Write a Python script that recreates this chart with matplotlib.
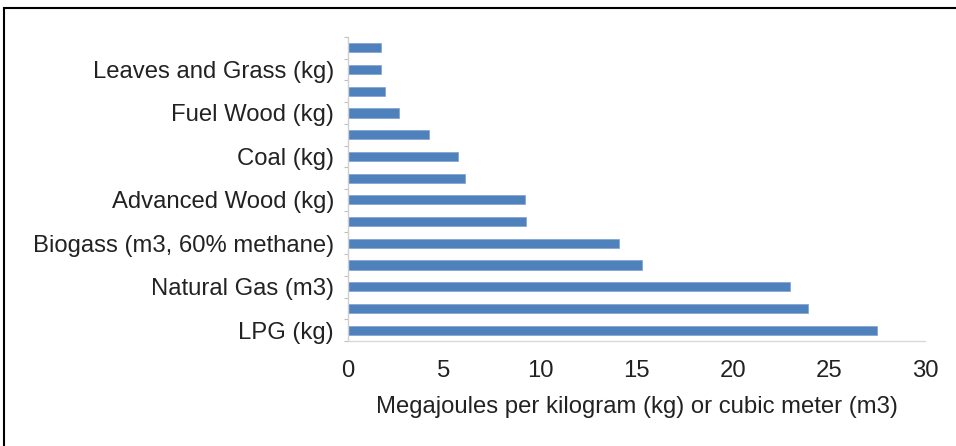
import matplotlib
matplotlib.use("Agg")
import matplotlib.pyplot as plt
from matplotlib.patches import Rectangle
import numpy as np

plt.rcParams['font.family'] = ['Liberation Sans', 'DejaVu Sans']

# Categories from top to bottom (unlabeled ones are hidden by the source chart)
categories = ["", "Leaves and Grass (kg)", "", "Fuel Wood (kg)", "", "Coal (kg)", "",
              "Advanced Wood (kg)", "", "Biogass (m3, 60% methane)", "", "Natural Gas (m3)",
              "", "LPG (kg)"]
values = [1.70, 1.70, 1.92, 2.64, 4.23, 5.74, 6.10, 9.18, 9.26, 14.1, 15.3, 23.0, 23.9, 27.5]
xticks = [0, 5, 10, 15, 20, 25, 30]
xlabel = "Megajoules per kilogram (kg) or cubic meter (m3)"

W, H = 956, 446
fig = plt.figure(figsize=(W / 100, H / 100), dpi=100)
fig.patch.set_facecolor('white')

# outer frame (cut at right and bottom in the reference)
fig.patches.append(Rectangle((4 / W, -0.05), 1.2, (H - 8) / H + 0.05, transform=fig.transFigure,
                             fill=False, edgecolor='black', linewidth=1.5))

left, right = 348 / W, 925 / W
top, bottom = 1 - 37 / H, 1 - 341 / H
ax = fig.add_axes([left, bottom, right - left, top - bottom])

FS = 17.2
y = np.arange(len(values))
ax.barh(y, values, height=0.42, color='#4F81BD', edgecolor='#7FA1CF', linewidth=0.5)
ax.set_ylim(len(values) - 0.5, -0.5)
ax.set_xlim(0, 30)
ax.set_xticks(xticks)
ax.set_xticklabels([str(t) for t in xticks], fontsize=FS, color='#222222')
ax.set_yticks(y)
ax.set_yticklabels(categories, fontsize=FS, color='#222222')
ax.tick_params(axis='y', length=0, pad=10)
ax.tick_params(axis='x', length=0, pad=14)
ax.set_yticks(np.arange(-0.5, len(values), 1), minor=True)
ax.tick_params(axis='y', which='minor', length=3, color='#BFBFBF', width=0.8)

for s in ['top', 'right']:
    ax.spines[s].set_visible(False)
ax.spines['left'].set_color('#D0D0D0')
ax.spines['bottom'].set_color('#D9D9D9')
ax.spines['left'].set_linewidth(1)
ax.spines['bottom'].set_linewidth(1)

ax.set_xlabel(xlabel, fontsize=FS, color='#222222', labelpad=10)

fig.savefig("out.png", dpi=100)
